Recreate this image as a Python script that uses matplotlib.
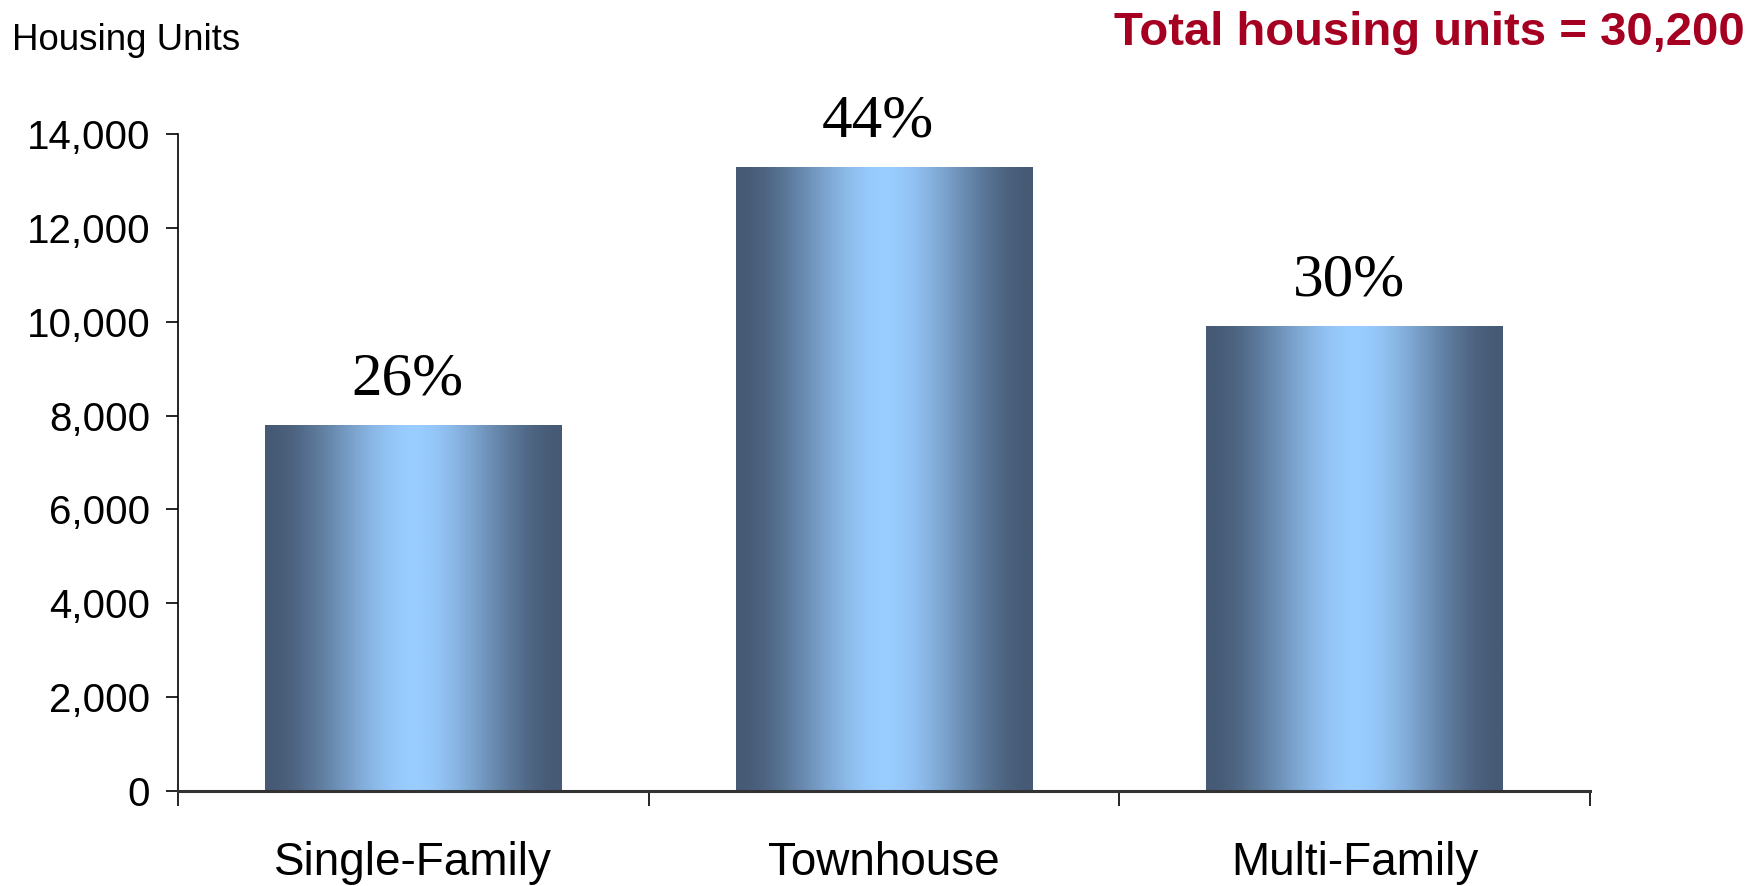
import matplotlib
matplotlib.use("Agg")
import matplotlib.pyplot as plt
import numpy as np
from matplotlib.colors import LinearSegmentedColormap
from matplotlib.ticker import FuncFormatter

categories = ["Single-Family", "Townhouse", "Multi-Family"]
units = [7800, 13300, 9900]
shares = ["26%", "44%", "30%"]
total_label = "Total housing units = 30,200"

DARK = "#465A75"
LIGHT = "#99CCFF"
TITLE_RED = "#A50021"

plt.rcParams["font.family"] = ["Liberation Sans", "DejaVu Sans"]

fig = plt.figure(figsize=(17.65, 8.86), dpi=100)
ax = fig.add_axes([0.1008, 0.1072, 0.8, 0.7416])

x = np.arange(len(categories))
bars = ax.bar(x, units, width=0.63, color="none", edgecolor="none")

# horizontal cylinder-like gradient, dark at the edges, light in the middle
cmap = LinearSegmentedColormap.from_list("bar", [DARK, LIGHT])
u = np.linspace(0, 1, 256)
d = 1 - np.abs(2 * u - 1)
shade = 3 * d ** 2 - 2 * d ** 3
grad = shade[np.newaxis, :]
for bar in bars:
    x0, w, h = bar.get_x(), bar.get_width(), bar.get_height()
    im = ax.imshow(grad, cmap=cmap, aspect="auto", extent=(x0, x0 + w, 0, h),
                   vmin=0, vmax=1, zorder=2, interpolation="bilinear")
    im.set_clip_path(bar)

for bar, label in zip(bars, shares):
    ax.annotate(label, (bar.get_x() + bar.get_width() / 2, bar.get_height()),
                xytext=(-4, 22), textcoords="offset points", ha="center", va="baseline",
                fontsize=44, family=["Liberation Serif", "DejaVu Serif"])

ax.set_xlim(-0.5, len(categories) - 0.5)
ax.set_ylim(0, 14000)
ax.set_yticks(np.arange(0, 14001, 2000))
ax.yaxis.set_major_formatter(FuncFormatter(lambda v, _: f"{int(v):,}"))
ax.tick_params(axis="y", labelsize=29, length=9, width=1.2, pad=11, direction="out")

ax.set_xticks(x)
ax.set_xticklabels(categories)
ax.set_xticks(np.arange(-0.5, len(categories)), minor=True)
ax.tick_params(axis="x", which="major", length=0, labelsize=33, pad=36)
ax.tick_params(axis="x", which="minor", length=11, width=1.2, direction="out")

ax.spines["top"].set_visible(False)
ax.spines["right"].set_visible(False)
ax.spines["left"].set_linewidth(1.2)
ax.spines["bottom"].set_linewidth(2.2)
ax.spines["bottom"].set_color("#333333")

fig.text(0.0068, 0.9436, "Housing Units", fontsize=26.4, ha="left", va="baseline")
fig.text(0.9887, 0.949, total_label, fontsize=34, fontweight="bold", color=TITLE_RED,
         ha="right", va="baseline")

fig.savefig("out.png", dpi=100)
